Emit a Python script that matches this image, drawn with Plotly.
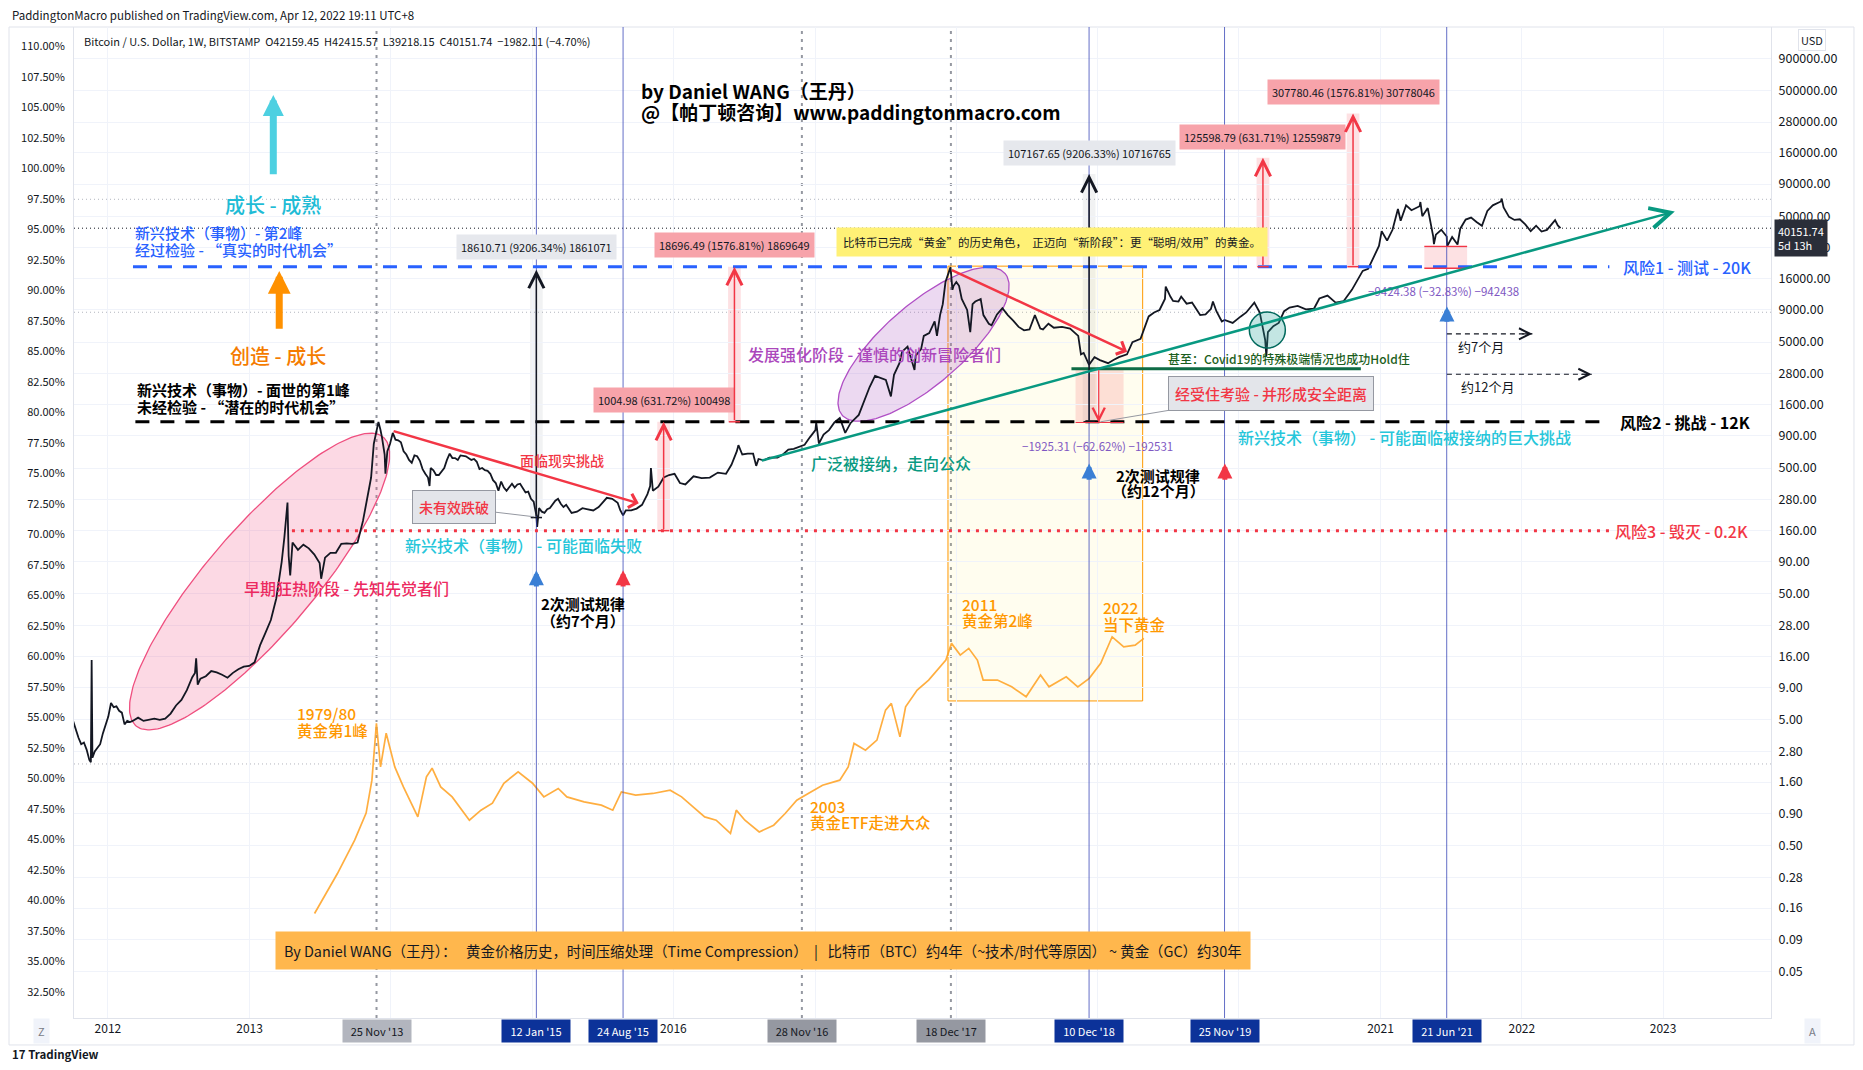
import math
import numpy as np
import pandas as pd
import plotly.graph_objects as go

# ======================= DATA =======================
# Bitcoin / USD (BITSTAMP, weekly) - closes and notable weekly extremes
btc_points = [
    ("2011-10-03", 4.9), ("2011-10-10", 4.1), ("2011-10-17", 3.6), ("2011-10-24", 3.2), ("2011-10-31", 3.3),
    ("2011-11-07", 2.9), ("2011-11-14", 2.4), ("2011-11-18", 2.3), ("2011-11-20", 14.9), ("2011-11-22", 2.5),
    ("2011-11-28", 2.8), ("2011-12-05", 3.0), ("2011-12-12", 3.2), ("2011-12-19", 3.9), ("2011-12-26", 4.5),
    ("2012-01-02", 5.3), ("2012-01-09", 6.8), ("2012-01-16", 6.3), ("2012-01-23", 6.4), ("2012-01-30", 5.9),
    ("2012-02-06", 5.7), ("2012-02-13", 4.6), ("2012-02-20", 4.9), ("2012-02-27", 4.8), ("2012-03-05", 4.9),
    ("2012-03-19", 5.2), ("2012-04-02", 4.9), ("2012-04-16", 5.0), ("2012-04-30", 5.1), ("2012-05-14", 5.0),
    ("2012-05-28", 5.1), ("2012-06-11", 5.6), ("2012-06-25", 6.5), ("2012-07-09", 7.2), ("2012-07-23", 8.6),
    ("2012-08-06", 10.9), ("2012-08-13", 11.8), ("2012-08-16", 15.4), ("2012-08-20", 9.5), ("2012-08-27", 10.6),
    ("2012-09-10", 11.1), ("2012-09-24", 12.2), ("2012-10-08", 11.9), ("2012-10-22", 11.4), ("2012-11-05", 10.8),
    ("2012-11-19", 11.8), ("2012-12-03", 12.6), ("2012-12-17", 13.2), ("2012-12-31", 13.4), ("2013-01-14", 14.3),
    ("2013-01-28", 19.5), ("2013-02-11", 24.5), ("2013-02-25", 31), ("2013-03-11", 46), ("2013-03-25", 90),
    ("2013-04-01", 141), ("2013-04-09", 266), ("2013-04-12", 100), ("2013-04-16", 70), ("2013-04-22", 128),
    ("2013-05-06", 112), ("2013-05-20", 123), ("2013-06-03", 115), ("2013-06-17", 103), ("2013-07-01", 88),
    ("2013-07-05", 66), ("2013-07-15", 97), ("2013-07-29", 106), ("2013-08-12", 106), ("2013-08-26", 125),
    ("2013-09-09", 126), ("2013-09-23", 125), ("2013-10-07", 128), ("2013-10-21", 190), ("2013-11-04", 330),
    ("2013-11-11", 420), ("2013-11-18", 780), ("2013-11-25", 1000), ("2013-11-30", 1163), ("2013-12-05", 1010),
    ("2013-12-09", 880), ("2013-12-16", 640), ("2013-12-18", 450), ("2013-12-23", 680), ("2013-12-30", 780),
    ("2014-01-06", 950), ("2014-01-13", 840), ("2014-01-20", 830), ("2014-01-27", 800), ("2014-02-03", 680),
    ("2014-02-10", 640), ("2014-02-17", 580), ("2014-02-24", 550), ("2014-03-03", 630), ("2014-03-10", 620),
    ("2014-03-17", 570), ("2014-03-24", 490), ("2014-03-31", 450), ("2014-04-07", 420), ("2014-04-11", 360),
    ("2014-04-14", 500), ("2014-04-21", 480), ("2014-04-28", 440), ("2014-05-05", 440), ("2014-05-19", 500),
    ("2014-05-26", 580), ("2014-06-02", 650), ("2014-06-09", 600), ("2014-06-16", 600), ("2014-06-23", 580),
    ("2014-06-30", 630), ("2014-07-14", 620), ("2014-07-28", 580), ("2014-08-04", 590), ("2014-08-11", 560),
    ("2014-08-18", 490), ("2014-08-25", 500), ("2014-09-01", 480), ("2014-09-08", 475), ("2014-09-15", 450),
    ("2014-09-22", 400), ("2014-09-29", 380), ("2014-10-06", 330), ("2014-10-13", 390), ("2014-10-20", 350),
    ("2014-10-27", 330), ("2014-11-03", 350), ("2014-11-10", 375), ("2014-11-17", 350), ("2014-11-24", 370),
    ("2014-12-01", 375), ("2014-12-08", 345), ("2014-12-15", 320), ("2014-12-22", 325), ("2014-12-29", 285),
    ("2015-01-05", 270), ("2015-01-12", 210), ("2015-01-14", 170), ("2015-01-19", 240), ("2015-01-26", 225),
    ("2015-02-02", 220), ("2015-02-09", 235), ("2015-02-16", 240), ("2015-03-02", 275), ("2015-03-09", 285),
    ("2015-03-16", 260), ("2015-03-23", 245), ("2015-03-30", 255), ("2015-04-13", 220), ("2015-04-27", 225),
    ("2015-05-11", 240), ("2015-05-25", 235), ("2015-06-08", 230), ("2015-06-22", 245), ("2015-06-29", 260),
    ("2015-07-13", 290), ("2015-07-27", 285), ("2015-08-10", 265), ("2015-08-17", 230), ("2015-08-24", 210),
    ("2015-08-31", 230), ("2015-09-14", 230), ("2015-09-28", 238), ("2015-10-12", 255), ("2015-10-26", 310),
    ("2015-11-02", 360), ("2015-11-04", 500), ("2015-11-09", 330), ("2015-11-23", 355), ("2015-12-07", 420),
    ("2015-12-21", 440), ("2016-01-04", 450), ("2016-01-18", 380), ("2016-02-01", 370), ("2016-02-22", 430),
    ("2016-03-14", 415), ("2016-04-04", 420), ("2016-04-25", 460), ("2016-05-16", 450), ("2016-05-30", 530),
    ("2016-06-13", 680), ("2016-06-17", 760), ("2016-06-27", 640), ("2016-07-11", 650), ("2016-07-25", 650),
    ("2016-08-02", 520), ("2016-08-08", 590), ("2016-08-22", 575), ("2016-09-05", 605), ("2016-09-26", 605),
    ("2016-10-10", 640), ("2016-10-24", 700), ("2016-11-07", 710), ("2016-11-21", 740), ("2016-12-05", 765),
    ("2016-12-19", 880), ("2017-01-02", 1000), ("2017-01-04", 1150), ("2017-01-11", 780), ("2017-01-23", 920),
    ("2017-02-06", 1000), ("2017-02-20", 1150), ("2017-03-06", 1250), ("2017-03-20", 950), ("2017-04-03", 1140),
    ("2017-04-24", 1320), ("2017-05-08", 1700), ("2017-05-22", 2200), ("2017-06-05", 2700), ("2017-06-19", 2600),
    ("2017-07-03", 2500), ("2017-07-16", 1850), ("2017-07-24", 2750), ("2017-08-07", 3400), ("2017-08-14", 4200),
    ("2017-08-28", 4600), ("2017-09-15", 3000), ("2017-09-18", 3900), ("2017-10-02", 4400), ("2017-10-09", 5600),
    ("2017-10-23", 5900), ("2017-11-06", 7300), ("2017-11-12", 5600), ("2017-11-20", 8200), ("2017-11-27", 10000),
    ("2017-12-04", 15000), ("2017-12-11", 17500), ("2017-12-17", 19700), ("2017-12-22", 13000), ("2017-12-25", 14000),
    ("2018-01-01", 15000), ("2018-01-08", 14000), ("2018-01-15", 11000), ("2018-01-29", 9000), ("2018-02-06", 6000),
    ("2018-02-12", 10000), ("2018-02-19", 10500), ("2018-03-05", 11000), ("2018-03-12", 8200), ("2018-03-26", 7000),
    ("2018-04-02", 6800), ("2018-04-16", 8300), ("2018-04-30", 9300), ("2018-05-14", 8200), ("2018-05-28", 7400),
    ("2018-06-11", 6600), ("2018-06-25", 6200), ("2018-07-09", 6300), ("2018-07-23", 8200), ("2018-08-06", 6400),
    ("2018-08-13", 6300), ("2018-08-27", 7000), ("2018-09-10", 6500), ("2018-10-01", 6600), ("2018-10-22", 6400),
    ("2018-11-12", 5600), ("2018-11-19", 4000), ("2018-11-26", 4100), ("2018-12-10", 3300), ("2018-12-24", 3800),
    ("2019-01-07", 3600), ("2019-01-28", 3400), ("2019-02-11", 3600), ("2019-02-25", 3800), ("2019-03-18", 4000),
    ("2019-04-01", 5000), ("2019-04-22", 5300), ("2019-05-06", 7000), ("2019-05-13", 8000), ("2019-05-27", 8600),
    ("2019-06-10", 9000), ("2019-06-24", 11000), ("2019-06-26", 13800), ("2019-07-08", 11500), ("2019-07-15", 10600),
    ("2019-07-29", 10500), ("2019-08-05", 11500), ("2019-08-19", 10100), ("2019-09-02", 10300), ("2019-09-23", 8200),
    ("2019-10-07", 8300), ("2019-10-21", 9200), ("2019-10-26", 10500), ("2019-11-04", 8800), ("2019-11-18", 7300),
    ("2019-11-25", 7500), ("2019-12-16", 7100), ("2020-01-06", 8000), ("2020-01-20", 8600), ("2020-02-10", 10300),
    ("2020-02-24", 8600), ("2020-03-09", 5200), ("2020-03-12", 3850), ("2020-03-16", 6000), ("2020-03-30", 6700),
    ("2020-04-13", 7100), ("2020-04-27", 8800), ("2020-05-11", 9400), ("2020-06-01", 9700), ("2020-06-22", 9100),
    ("2020-07-13", 9200), ("2020-07-27", 11100), ("2020-08-17", 11700), ("2020-09-07", 10300), ("2020-09-28", 10600),
    ("2020-10-19", 13000), ("2020-11-02", 15500), ("2020-11-16", 18400), ("2020-11-30", 19100), ("2020-12-14", 23800),
    ("2020-12-28", 29000), ("2021-01-04", 38000), ("2021-01-18", 32000), ("2021-02-01", 39000), ("2021-02-15", 57000),
    ("2021-02-22", 46000), ("2021-03-08", 61000), ("2021-03-22", 55800), ("2021-04-12", 60000), ("2021-04-14", 64800),
    ("2021-04-19", 50000), ("2021-05-03", 58000), ("2021-05-17", 34800), ("2021-05-19", 30000), ("2021-05-24", 35700),
    ("2021-06-07", 39000), ("2021-06-21", 34500), ("2021-06-22", 28800), ("2021-07-05", 34200), ("2021-07-19", 29800),
    ("2021-07-26", 39800), ("2021-08-09", 47000), ("2021-08-23", 48800), ("2021-09-06", 45000), ("2021-09-20", 42000),
    ("2021-10-04", 55000), ("2021-10-18", 61000), ("2021-11-08", 65500), ("2021-11-10", 69000), ("2021-11-15", 58700),
    ("2021-11-29", 49400), ("2021-12-13", 46700), ("2021-12-27", 47300), ("2022-01-10", 43000), ("2022-01-24", 38000),
    ("2022-02-07", 42000), ("2022-02-21", 37800), ("2022-03-07", 38900), ("2022-03-28", 46500), ("2022-04-04", 42200),
    ("2022-04-11", 40151.74),
]
btc_dates = [d for d, _ in btc_points]
btc_prices = [p for _, p in btc_points]

# Gold history, time-compressed onto the BTC timeline (position as fractional year, value on left % scale)
gold_pos = [2013.460, 2013.622, 2013.744, 2013.825, 2013.866, 2013.898, 2013.927, 2013.967, 2014.028, 2014.089,
            2014.191, 2014.252, 2014.292, 2014.353, 2014.434, 2014.556, 2014.638, 2014.719, 2014.800, 2014.901,
            2015.003, 2015.083, 2015.185, 2015.246, 2015.368, 2015.490, 2015.571, 2015.632, 2015.733, 2015.855,
            2015.977, 2016.058, 2016.139, 2016.221, 2016.302, 2016.403, 2016.444, 2016.505, 2016.606, 2016.708,
            2016.789, 2016.871, 2016.952, 2017.053, 2017.175, 2017.235, 2017.276, 2017.357, 2017.438, 2017.499,
            2017.540, 2017.601, 2017.641, 2017.723, 2017.804, 2017.865, 2017.926, 2017.966, 2018.028, 2018.088,
            2018.149, 2018.190, 2018.291, 2018.392, 2018.494, 2018.596, 2018.656, 2018.778, 2018.860, 2018.941,
            2019.022, 2019.103, 2019.185, 2019.266, 2019.327]
gold_pct = [38.93, 42.21, 44.94, 47.16, 49.86, 54.51, 50.95, 53.71, 50.95, 49.31,
            46.85, 50.13, 50.84, 49.31, 48.49, 46.58, 47.40, 47.98, 49.61, 50.54,
            49.61, 48.49, 49.18, 48.49, 48.08, 47.81, 47.40, 48.90, 48.63, 48.77,
            49.04, 48.49, 47.67, 46.85, 46.58, 45.49, 47.40, 46.58, 45.62, 46.17,
            47.13, 48.22, 48.77, 49.45, 49.86, 50.95, 52.87, 52.32, 53.14, 55.60,
            56.15, 53.41, 55.87, 57.24, 58.06, 58.88, 59.70, 61.07, 60.11, 60.66,
            59.70, 58.06, 58.06, 57.51, 56.69, 58.47, 57.51, 58.33, 57.51, 58.20,
            59.43, 61.61, 60.79, 60.93, 61.48]

# Axis ticks
right_ticks = [900000, 500000, 280000, 160000, 90000, 50000, 28000, 16000, 9000, 5000, 2800, 1600, 900, 500,
               280, 160, 90, 50, 28, 16, 9, 5, 2.8, 1.6, 0.9, 0.5, 0.28, 0.16, 0.09, 0.05]
left_ticks = [32.5, 35.0, 37.5, 40.0, 42.5, 45.0, 47.5, 50.0, 52.5, 55.0, 57.5, 60.0, 62.5, 65.0, 67.5, 70.0,
              72.5, 75.0, 77.5, 80.0, 82.5, 85.0, 87.5, 90.0, 92.5, 95.0, 97.5, 100.0, 102.5, 105.0, 107.5, 110.0]
year_ticks = [2012, 2013, 2014, 2015, 2016, 2017, 2018, 2019, 2020, 2021, 2022, 2023]
year_labels = ["2012", "2013", "", "", "2016", "", "", "", "", "2021", "2022", "2023"]

# Key horizontal levels
level_names = ["风险1 - 测试 - 20K", "风险2 - 挑战 - 12K", "风险3 - 毁灭 - 0.2K"]
level_values = [19860, 1164, 159]
last_price = 40151.74
ref_levels = [68130, 8630, 2.23]

# Highlighted dates
gray_dates = ["2013-11-25", "2016-11-28", "2017-12-18"]
gray_labels = ["25 Nov '13", "28 Nov '16", "18 Dec '17"]
blue_dates = ["2015-01-12", "2015-08-24", "2018-12-10", "2019-11-25", "2021-06-21"]
blue_labels = ["12 Jan '15", "24 Aug '15", "10 Dec '18", "25 Nov '19", "21 Jun '21"]

# Price-range measurements (position year, from, to, label)
measure_x = [2015.030, 2015.931, 2016.431, 2018.940, 2020.170, 2020.806]
measure_from = [202, 159, 1164, 1164, 19860, 19860]
measure_to = [18812, 1164, 19860, 108331, 145459, 327640]
measure_text = ["18610.71 (9206.34%) 1861071", "1004.98 (631.72%) 100498", "18696.49 (1576.81%) 1869649",
                "107167.65 (9206.33%) 10716765", "125598.79 (631.71%) 12559879", "307780.46 (1576.81%) 30778046"]
measure_label_at = [28400, 1734, 29530, 159800, 214300, 489000]
measure_kind = ["gray", "red", "red", "gray", "red", "red"]

# ======================= HELPERS =======================
FONT = "Noto Sans CJK SC, Roboto, sans-serif"
TXT = "#131722"
GRID = "#f0f3fa"
BORDER = "#e0e3eb"
RED = "#f23645"
BLUE = "#2962ff"
CYAN = "#1fbcd6"
ORANGE = "#ff9800"
PX_PER_YEAR = 141.4
PX_PER_DECADE = 125.9


def fy(y):
    yr = int(math.floor(y))
    a = pd.Timestamp(year=yr, month=1, day=1)
    b = pd.Timestamp(year=yr + 1, month=1, day=1)
    return (a + (b - a) * (y - yr)).strftime("%Y-%m-%d %H:%M:%S")


def L(v):
    return math.log10(v)


ann = []
shapes = []


def txt(x, y, s, size=15, color=TXT, yref="y", xanchor="center", weight=500, **kw):
    d = dict(x=x, y=y, xref="x", yref=yref, text=s, showarrow=False, xanchor=xanchor,
             yanchor="middle", font=dict(size=size, color=color, family=FONT, weight=weight))
    d.update(kw)
    ann.append(d)


def arrow(x, y, ax, ay, color, width, head, size, yref="y"):
    ann.append(dict(x=x, y=y, ax=ax, ay=ay, xref="x", yref=yref, axref="x", ayref=yref, text="",
                    showarrow=True, arrowhead=head, arrowsize=size, arrowwidth=width, arrowcolor=color,
                    standoff=0, startstandoff=0))


def hline(y, x0, x1, color, width, dash="solid", xref="x", layer="above"):
    shapes.append(dict(type="line", xref=xref, yref="y", x0=x0, x1=x1, y0=y, y1=y,
                       line=dict(color=color, width=width, dash=dash), layer=layer))


def ellipse(cy_year, c_price, a_px, b_px, theta_deg, line_color, fill_color):
    t = np.linspace(0, 2 * np.pi, 240)
    th = np.radians(theta_deg)
    dx = a_px * np.cos(t) * np.cos(th) - b_px * np.sin(t) * np.sin(th)
    dy = a_px * np.cos(t) * np.sin(th) + b_px * np.sin(t) * np.cos(th)
    xs = [fy(cy_year + v / PX_PER_YEAR) for v in dx]
    ys = c_price * 10 ** (dy / PX_PER_DECADE)
    return go.Scatter(x=xs, y=ys, mode="lines", fill="toself", fillcolor=fill_color,
                      line=dict(color=line_color, width=1.3), hoverinfo="skip", yaxis="y")


# ======================= FIGURE =======================
fig = go.Figure()

# phase ellipses
fig.add_trace(ellipse(2013.072, 62.7, 190, 53, 49.4, "#ef4f7f", "rgba(240,80,130,0.22)"))
fig.add_trace(ellipse(2017.768, 4808, 108, 40, 41.0, "#b04fc5", "rgba(170,80,190,0.22)"))

# Bitcoin
fig.add_trace(go.Scatter(x=btc_dates, y=btc_prices, mode="lines", line=dict(color=TXT, width=1.8),
                         name="BTCUSD", yaxis="y", hoverinfo="x+y"))

# Covid hold circle
fig.add_trace(go.Scatter(x=[fy(2020.201)], y=[6237], mode="markers", yaxis="y", hoverinfo="skip",
                         marker=dict(size=36, color="rgba(38,166,154,0.28)",
                                     line=dict(color="#00695c", width=1.5))))

# Gold (time-compressed)
fig.add_trace(go.Scatter(x=[fy(v) for v in gold_pos], y=gold_pct, mode="lines", yaxis="y2",
                         line=dict(color="rgba(255,160,30,0.85)", width=1.7), name="Gold", hoverinfo="skip"))

# ---- background rectangles ----
shapes.append(dict(type="rect", xref="x", yref="y", x0=fy(2017.941), x1=fy(2019.319), y0=7.06, y1=20060,
                   fillcolor="rgba(255,236,80,0.09)", line=dict(color=ORANGE, width=1), layer="below"))

# ---- reference dotted levels ----
for v in ref_levels:
    hline(v, 0, 1, "#b2b5be", 1, "1px,3px", xref="paper", layer="below")
hline(last_price, 0, 1, TXT, 1, "1px,3px", xref="paper", layer="below")

# ---- vertical highlight lines ----
for d in gray_dates:
    shapes.append(dict(type="line", xref="x", yref="paper", x0=d, x1=d, y0=0, y1=1,
                       line=dict(color="#9598a1", width=2, dash="3px,5px"), layer="below"))
for d in blue_dates:
    shapes.append(dict(type="line", xref="x", yref="paper", x0=d, x1=d, y0=0, y1=1,
                       line=dict(color="rgba(48,63,180,0.75)", width=1), layer="above"))

# ---- risk levels ----
hline(level_values[0], fy(2012.177), fy(2022.62), BLUE, 3, "14px,11px")
hline(level_values[1], fy(2012.194), fy(2022.62), "#000000", 3, "14px,11px")
hline(level_values[2], fy(2013.300), fy(2022.62), RED, 3, "3px,6px")
txt(fy(2022.705), L(level_values[0]), level_names[0], 16, BLUE, xanchor="left")
txt(fy(2022.680), L(level_values[1]), level_names[1], 16, "#000000", xanchor="left", weight=700)
txt(fy(2022.646), L(level_values[2]), level_names[2], 16, RED, xanchor="left")

# ---- measurement arrows ----
for mx, a0, a1, lbl, lp, kind in zip(measure_x, measure_from, measure_to, measure_text, measure_label_at, measure_kind):
    col = TXT if kind == "gray" else RED
    shade = "rgba(120,123,134,0.10)" if kind == "gray" else "rgba(242,54,69,0.15)"
    box = "#e6e8ed" if kind == "gray" else "#f7a3aa"
    shapes.append(dict(type="rect", xref="x", yref="y", x0=fy(mx - 0.045), x1=fy(mx + 0.045), y0=a0, y1=a1,
                       fillcolor=shade, line=dict(width=0), layer="below"))
    hline(a0, fy(mx - 0.04), fy(mx + 0.04), col, 1.5)
    arrow(fy(mx), L(a1), fy(mx), L(a0), col, 1.5, 5, 2.0)
    ann.append(dict(x=fy(mx), y=L(lp), xref="x", yref="y", text=lbl, showarrow=False, bgcolor=box,
                    borderpad=4, font=dict(size=11, color=TXT, family=FONT)))

# drawdown 2018
shapes.append(dict(type="rect", xref="x", yref="y", x0=fy(2018.844), x1=fy(2019.184), y0=1149, y1=3075,
                   fillcolor="rgba(242,54,69,0.15)", line=dict(width=0), layer="below"))
hline(1149, fy(2018.844), fy(2019.184), RED, 1.2)
arrow(fy(2019.008), L(1149), fy(2019.008), L(3075), RED, 1.2, 5, 2.0)
txt(fy(2019.0), L(754), "−1925.31 (−62.62%) −192531", 11.5, "#7e57c2", weight=400)

# drawdown 2021
shapes.append(dict(type="rect", xref="x", yref="y", x0=fy(2021.31), x1=fy(2021.613), y0=19282, y1=28706,
                   fillcolor="rgba(242,54,69,0.15)", line=dict(width=0), layer="below"))
hline(28706, fy(2021.31), fy(2021.613), RED, 1.5)
hline(19282, fy(2021.31), fy(2021.613), RED, 1.5)
txt(fy(2021.444), L(12700), "−9424.38 (−32.83%) −942438", 11.5, "#7e57c2", weight=400)

# ---- trend lines ----
arrow(fy(2015.755), L(262), fy(2014.009), L(990), RED, 2.5, 4, 1.1)
arrow(fy(2019.209), L(4198), fy(2017.958), L(18920), RED, 2.5, 4, 1.1)
arrow(fy(2023.083), L(54500), fy(2016.613), L(569), "#089981", 2.5, 5, 1.6)
hline(3075, fy(2018.815), fy(2020.861), "#0e6b45", 3)

# ---- big direction arrows ----
arrow(fy(2013.168), L(458000), fy(2013.168), L(104600), "#4dd0e1", 7, 2, 0.6)
arrow(fy(2013.210), L(18390), fy(2013.210), L(6210), "#ff9100", 7, 2, 0.65)

# small test arrows
small_x = [2015.030, 2015.644, 2018.940, 2019.901, 2021.470]
small_tip = [77.1, 77.1, 544, 544, 9583]
small_tail = [55.6, 55.6, 393, 393, 7070]
small_col = ["#3a7fd5", RED, "#3a7fd5", RED, "#3a7fd5"]
for sx, st, sb, sc in zip(small_x, small_tip, small_tail, small_col):
    arrow(fy(sx), L(st), fy(sx), L(sb), sc, 5, 2, 0.6)

# dashed "months" arrows
hline(5815, fy(2021.47), fy(2022.075), TXT, 1.2, "5px,4px")
hline(2778, fy(2021.47), fy(2022.495), TXT, 1.2, "5px,4px")
for ex, ey in [(2022.075, 5815), (2022.495, 2778)]:
    ann.append(dict(x=fy(ex), y=L(ey), xref="x", yref="y", ax=-12, ay=0, text="", showarrow=True,
                    arrowhead=5, arrowsize=1.8, arrowwidth=1.2, arrowcolor=TXT))
txt(fy(2021.713), L(4579), "约7个月", 13, weight=400)
txt(fy(2021.755), L(2235), "约12个月", 13, weight=400)

# ---- text annotations ----
txt(fy(2013.168), L(62100), "成长 - 成熟", 20, CYAN)
txt(fy(2013.200), L(3932), "创造 - 成长", 20, "#f57c00")
txt(fy(2012.177), L(36860), "新兴技术（事物）- 第2峰", 15, BLUE, xanchor="left")
txt(fy(2012.177), L(27190), "经过检验 - “真实的时代机会”", 15, BLUE, xanchor="left")
txt(fy(2012.194), L(2094), "新兴技术（事物）- 面世的第1峰", 15, "#000000", xanchor="left", weight=700)
txt(fy(2012.194), L(1545), "未经检验 - “潜在的时代机会”", 15, "#000000", xanchor="left", weight=700)
txt(fy(2013.689), L(55.6), "早期狂热阶段 - 先知先觉者们", 16, "#ec2a60")
txt(fy(2015.210), L(581), "面临现实挑战", 14, RED)
txt(fy(2014.941), L(121.6), "新兴技术（事物） - 可能面临失败", 16, "#26c6da")
txt(fy(2017.420), L(4018), "发展强化阶段 - 谨慎的创新冒险者们", 16, "#ab47bc")
txt(fy(2017.537), L(544), "广泛被接纳，走向公众", 16, "#089981")
txt(fy(2021.170), L(878), "新兴技术（事物） - 可能面临被接纳的巨大挑战", 16, "#26c6da")
txt(fy(2020.352), L(3683), "甚至：Covid19的特殊极端情况也成功Hold住", 12, "#1b5e20")
txt(fy(2015.361), L(41.9), "2次测试规律", 15, "#000000", weight=700)
txt(fy(2015.361), L(30.9), "（约7个月）", 15, "#000000", weight=700)
txt(fy(2019.428), L(438), "2次测试规律", 15, "#000000", weight=700)
txt(fy(2019.428), L(330), "（约12个月）", 15, "#000000", weight=700)
txt(fy(2015.756), L(500000), "by Daniel WANG（王丹）", 19, "#000000", xanchor="left", weight=700)
txt(fy(2015.756), L(338000), "@【帕丁顿咨询】www.paddingtonmacro.com", 19, "#000000", xanchor="left", weight=700)

# gold labels (left % scale)
gold_label_x = [2013.320, 2013.320, 2016.949, 2016.949, 2018.025, 2018.025, 2019.025, 2019.025]
gold_label_y = [55.37, 54.0, 47.77, 46.41, 64.33, 62.96, 64.03, 62.67]
gold_label_t = ["1979/80", "黄金第1峰", "2003", "黄金ETF走进大众", "2011", "黄金第2峰", "2022", "当下黄金"]
for gx, gyv, gt in zip(gold_label_x, gold_label_y, gold_label_t):
    txt(fy(gx), gyv, gt, 15.5, ORANGE, yref="y2", xanchor="left")

# callouts
ann.append(dict(x=fy(2015.013), y=L(205), ax=fy(2014.446), ay=L(244), xref="x", yref="y", axref="x", ayref="y",
                text="未有效跌破", showarrow=True, arrowhead=0, arrowwidth=1, arrowcolor="#9598a1",
                bgcolor="#e3e5ea", bordercolor="#9598a1", borderwidth=1, borderpad=6,
                font=dict(size=14, color=RED, family=FONT, weight=500)))
ann.append(dict(x=fy(2019.02), y=L(1164), ax=fy(2020.226), ay=L(1962), xref="x", yref="y", axref="x", ayref="y",
                text="经受住考验 - 并形成安全距离", showarrow=True, arrowhead=0, arrowwidth=1, arrowcolor="#9598a1",
                bgcolor="#e3e5ea", bordercolor="#9598a1", borderwidth=1, borderpad=6,
                font=dict(size=15, color=RED, family=FONT, weight=500)))
ann.append(dict(x=fy(2018.68), y=L(31310), xref="x", yref="y", showarrow=False,
                text="比特币已完成“黄金”的历史角色，  正迈向“新阶段”：更“聪明/效用”的黄金。",
                bgcolor="#fff176", borderpad=6, font=dict(size=11.5, color=TXT, family=FONT)))
ann.append(dict(x=fy(2016.63), y=35.89, xref="x", yref="y2", showarrow=False,
                text="By Daniel WANG（王丹）：   黄金价格历史，时间压缩处理（Time Compression）  |   比特币（BTC）约4年（~技术/时代等原因） ~ 黄金（GC）约30年",
                bgcolor="#ffb74d", borderpad=8, font=dict(size=14.4, color=TXT, family=FONT)))


# ---- outside-plot texts ----
def paper_text(x, y, s, size=11, color=TXT, xanchor="left", **kw):
    d = dict(x=x, y=y, xref="paper", yref="paper", text=s, showarrow=False, xanchor=xanchor,
             yanchor="middle", font=dict(size=size, color=color, family=FONT))
    d.update(kw)
    ann.append(d)


paper_text(-0.0377, 1.0121, "PaddingtonMacro published on TradingView.com, Apr 12, 2022 19:11 UTC+8", 11.5)
paper_text(0.0047, 0.9859,
           "Bitcoin / U.S. Dollar, 1W, BITSTAMP\u00a0\u00a0O42159.45\u00a0\u00a0H42415.57\u00a0\u00a0L39218.15\u00a0\u00a0C40151.74\u00a0\u00a0−1982.11 (−4.70%)",
           11)
paper_text(-0.0377, -0.0363, "<b>17</b> <b>TradingView</b>", 11.5)
paper_text(1.0242, 0.9869, "USD", 11, xanchor="center", bgcolor="white", bordercolor=BORDER, borderwidth=1, borderpad=2)
paper_text(-0.0189, -0.0131, "Z", 11, "#787b86", xanchor="center", bgcolor="#f0f3fa", borderpad=4)
paper_text(1.0242, -0.0131, "A", 11, "#787b86", xanchor="center", bgcolor="#f0f3fa", borderpad=4)

# price tag on the right axis
ann.append(dict(x=1, y=L(last_price), xref="paper", yref="y", xanchor="left", yanchor="top", xshift=3, yshift=9,
                text="40151.74<br>5d 13h", align="left", showarrow=False, bgcolor="#2a2e39", borderpad=3,
                font=dict(size=11, color="white", family=FONT)))

# highlighted date boxes on the time axis
for d, lbl in zip(gray_dates, gray_labels):
    ann.append(dict(x=d, y=-0.0131, xref="x", yref="paper", text=lbl, showarrow=False, yanchor="middle",
                    bgcolor="#b2b5be" if d == gray_dates[0] else "#9598a1", width=64, height=18, borderpad=2,
                    font=dict(size=11, color=TXT, family=FONT)))
for d, lbl in zip(blue_dates, blue_labels):
    ann.append(dict(x=d, y=-0.0131, xref="x", yref="paper", text=lbl, showarrow=False, yanchor="middle",
                    bgcolor="#0c3299", width=64, height=18, borderpad=2,
                    font=dict(size=11, color="white", family=FONT)))

# outer frame
shapes.append(dict(type="rect", xref="paper", yref="paper", x0=-0.0383, x1=1.0489, y0=-0.0272, y1=1.0,
                   line=dict(color=BORDER, width=1), layer="below"))

# page body has an 8px margin: size the figure so the chart lands where the reference has it
fig.update_layout(
    width=1847, height=1054,
    margin=dict(l=66, r=84, t=19, b=44),
    paper_bgcolor="white", plot_bgcolor="white",
    showlegend=False,
    font=dict(family=FONT, size=11, color=TXT),
    xaxis=dict(type="date", range=[fy(2011.76), fy(2023.764)],
               tickvals=[f"{y}-01-01" for y in year_ticks], ticktext=year_labels,
               showgrid=True, gridcolor=GRID, zeroline=False, showline=True, linecolor=BORDER,
               ticks="", tickfont=dict(size=12, color=TXT)),
    yaxis=dict(type="log", side="right", range=[-1.6695, 6.2018],
               tickvals=right_ticks, ticktext=[f"{v:.2f}" for v in right_ticks],
               showgrid=True, gridcolor=GRID, zeroline=False, showline=True, linecolor=BORDER,
               ticks="", ticklabelstandoff=4, tickfont=dict(size=12.5, color=TXT)),
    yaxis2=dict(overlaying="y", side="left", range=[30.37, 111.58],
                tickvals=left_ticks, ticktext=[f"{v:.2f}%" for v in left_ticks],
                showgrid=False, zeroline=False, showline=True, linecolor=BORDER,
                ticks="", ticklabelstandoff=6, tickfont=dict(size=11, color=TXT)),
    shapes=shapes,
    annotations=ann,
)

fig.write_html("out.html")
